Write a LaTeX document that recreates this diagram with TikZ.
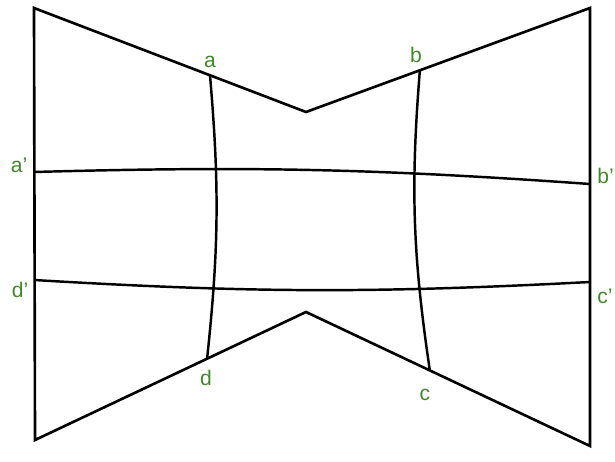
\documentclass[tikz,border=0pt]{standalone}
\usepackage{fontspec}
\setmainfont{Liberation Sans}
\usepackage{tikz}
\usetikzlibrary{calc, positioning}
\definecolor{labelgreen}{RGB}{67,135,45}

\begin{document}
\begin{tikzpicture}[
    x=0.02cm, y=-0.02cm,
    edge/.style={line width=1.5pt, line join=miter},
    grid/.style={line width=1.4pt},
    lab/.style={text=labelgreen, font=\fontsize{12}{14}\selectfont, inner sep=0pt}
]
    \useasboundingbox (0,0) rectangle (615,462);

    % Eckpunkte des Umrisses
    \coordinate (tl) at (34,8);
    \coordinate (tm) at (306,112);
    \coordinate (tr) at (590,8);
    \coordinate (br) at (590,446);
    \coordinate (bm) at (306,312);
    \coordinate (bl) at (35,440);

    % Punkte auf dem Rand
    \coordinate (a) at ($(tl)!0.647!(tm)$);
    \coordinate (b) at ($(tm)!0.401!(tr)$);
    \coordinate (c) at ($(bm)!0.436!(br)$);
    \coordinate (d) at ($(bl)!0.635!(bm)$);
    \coordinate (a') at (34,172);
    \coordinate (d') at (34,280);
    \coordinate (b') at (590,184);
    \coordinate (c') at (590,282);

    % Umriss
    \draw[edge] (bl) -- (tl) -- (tm) -- (tr) -- (br) -- (bm) -- cycle;

    % Gitterlinien
    \draw[grid] (a) to[bend left=5.5] (d);
    \draw[grid] (b) to[bend right=6.5] (c);
    \draw[grid] (a') to[bend left=2.8] (b');
    \draw[grid] (d') to[bend right=3.2] (c');

    % Beschriftungen
    \node[lab] (la) at (210,62) {a};
    \node[lab] (lb) at (416,55) {b};
    \node[lab] (lc) at (425,395) {c};
    \node[lab] (ld) at (206,378) {d};
    \node[lab] (la') at (19,165) {a’};
    \node[lab] (ld') at (20,290) {d’};
    \node[lab, anchor=west] (lb') at (597,176) {b’};
    \node[lab, anchor=west] (lc') at (597,296) {c’};
\end{tikzpicture}
\end{document}
